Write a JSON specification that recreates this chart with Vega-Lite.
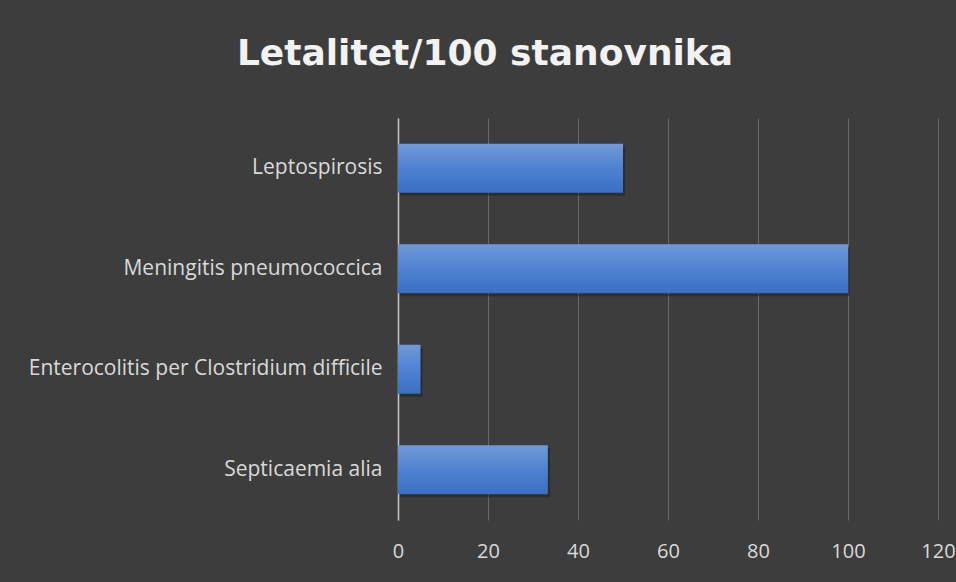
{
  "$schema": "https://vega.github.io/schema/vega-lite/v6.json",
  "width": 540,
  "height": 402,
  "autosize": {"type": "none"},
  "padding": {"left": 398, "top": 118, "right": 18, "bottom": 62},
  "background": "#3d3d3d",
  "title": {
    "text": "Letalitet/100 stanovnika",
    "anchor": "middle",
    "frame": "group",
    "dx": -183,
    "offset": 17,
    "baseline": "alphabetic",
    "font": "DejaVu Sans",
    "fontWeight": "bold",
    "fontSize": 36,
    "color": "#f2f2f2"
  },
  "config": {
    "view": {"stroke": null},
    "axis": {"labelFont": "Open Sans", "labelColor": "#d9d9d9", "ticks": false, "title": null}
  },
  "data": {
    "values": [
      {"disease": "Leptospirosis", "value": 50},
      {"disease": "Meningitis pneumococcica", "value": 100},
      {"disease": "Enterocolitis per Clostridium difficile", "value": 5},
      {"disease": "Septicaemia alia", "value": 33.3}
    ]
  },
  "encoding": {
    "y": {
      "field": "disease",
      "type": "nominal",
      "sort": null,
      "scale": {"paddingInner": 0.51, "paddingOuter": 0.255},
      "axis": {"domainColor": "#c8c8c8", "domainWidth": 1.5, "labelPadding": 16, "labelFontSize": 21, "grid": false, "labelLimit": 400}
    },
    "x": {
      "field": "value",
      "type": "quantitative",
      "scale": {"domain": [0, 120]},
      "axis": {"values": [0, 20, 40, 60, 80, 100, 120], "domain": false, "grid": true, "gridColor": "#6a6a6a", "gridWidth": 1, "labelPadding": 21, "labelFontSize": 20, "labelFlush": false}
    }
  },
  "layer": [
    {"mark": {"type": "bar", "color": "#1a1a1a", "opacity": 0.45, "yOffset": 3, "xOffset": 2}},
    {"mark": {"type": "bar", "color": {"gradient": "linear", "x1": 0, "y1": 0, "x2": 0, "y2": 1, "stops": [{"offset": 0, "color": "#7099d8"}, {"offset": 0.5, "color": "#4f83d1"}, {"offset": 1, "color": "#3a6fc2"}]}}}
  ]
}
